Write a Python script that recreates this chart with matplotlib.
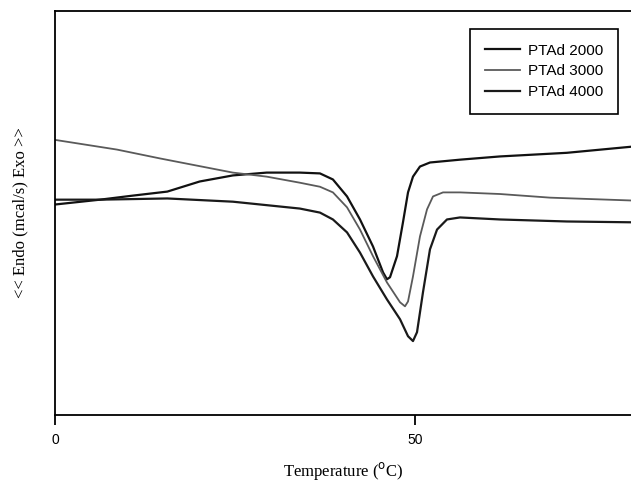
import matplotlib
matplotlib.use("Agg")
import matplotlib.pyplot as plt

# Temperature (°C) and heat flow (arbitrary units)
t_2000 = [0, 6.25, 10.8, 15.6, 20.1, 24.7, 29.4, 34.0, 36.8, 38.6, 40.56, 42.36, 44.17, 45.56, 46.11, 46.53, 47.5, 48.33, 49.03, 49.72, 50.69, 52.08, 56.25, 61.8, 71.1, 80]
y_2000 = [5.21, 5.33, 5.43, 5.53, 5.78, 5.93, 6.00, 6.00, 5.98, 5.83, 5.41, 4.84, 4.17, 3.53, 3.36, 3.41, 3.93, 4.77, 5.51, 5.90, 6.15, 6.25, 6.32, 6.40, 6.49, 6.64]

t_3000 = [0, 8.6, 14.6, 24.7, 29.4, 34.0, 36.8, 38.6, 40.56, 42.36, 44.17, 46.11, 47.92, 48.61, 49.03, 49.72, 50.69, 51.67, 52.5, 53.89, 56.25, 61.8, 68.75, 80]
y_3000 = [6.81, 6.57, 6.35, 6.00, 5.90, 5.75, 5.65, 5.51, 5.14, 4.59, 3.93, 3.28, 2.79, 2.69, 2.81, 3.43, 4.42, 5.09, 5.41, 5.51, 5.51, 5.47, 5.38, 5.31]

t_4000 = [0, 6.25, 15.6, 24.7, 34.0, 36.8, 38.6, 40.56, 42.36, 44.17, 46.11, 47.92, 49.03, 49.72, 50.28, 51.11, 52.08, 53.06, 54.44, 56.25, 61.8, 71.1, 80]
y_4000 = [5.33, 5.33, 5.36, 5.28, 5.11, 5.01, 4.84, 4.52, 4.02, 3.43, 2.86, 2.37, 1.95, 1.83, 2.05, 3.04, 4.10, 4.59, 4.84, 4.89, 4.84, 4.79, 4.77]

labels = ["PTAd 2000", "PTAd 3000", "PTAd 4000"]
xticks = [0, 50]

fig = plt.figure(figsize=(6.31, 4.86), dpi=100)
ax = fig.add_axes([55/631, 71/486, 576/631, 404/486])

ax.plot(t_2000, y_2000, color="#111111", lw=1.6, label=labels[0])
ax.plot(t_3000, y_3000, color="#5a5a5a", lw=1.3, label=labels[1])
ax.plot(t_4000, y_4000, color="#1a1a1a", lw=1.6, label=labels[2])

ax.set_xlim(0, 80)
ax.set_ylim(0, 10)
ax.spines["right"].set_visible(False)
for s in ["left", "top", "bottom"]:
    ax.spines[s].set_linewidth(1.3)
ax.set_yticks([])
ax.set_xticks(xticks)
ax.tick_params(axis="x", direction="out", length=7, width=1.3, pad=6, labelsize=10)
for lab in ax.get_xticklabels():
    lab.set_fontfamily("Liberation Sans")

ax.set_xlabel("Temperature ($^{\\rm o}$C)", fontfamily="Liberation Serif", fontsize=12, labelpad=9)
ax.set_ylabel("<< Endo (mcal/s) Exo >>", fontfamily="Liberation Serif", fontsize=12, labelpad=19)

leg = ax.legend(loc="upper right", bbox_to_anchor=(563/576, 386/404), borderaxespad=0,
                fancybox=False, edgecolor="black", framealpha=1,
                prop={"family": "Liberation Sans", "size": 11},
                handlelength=2.3, handletextpad=0.55, borderpad=0.95, labelspacing=0.45)
leg.get_frame().set_linewidth(1.2)

fig.savefig("out.png", dpi=100)
